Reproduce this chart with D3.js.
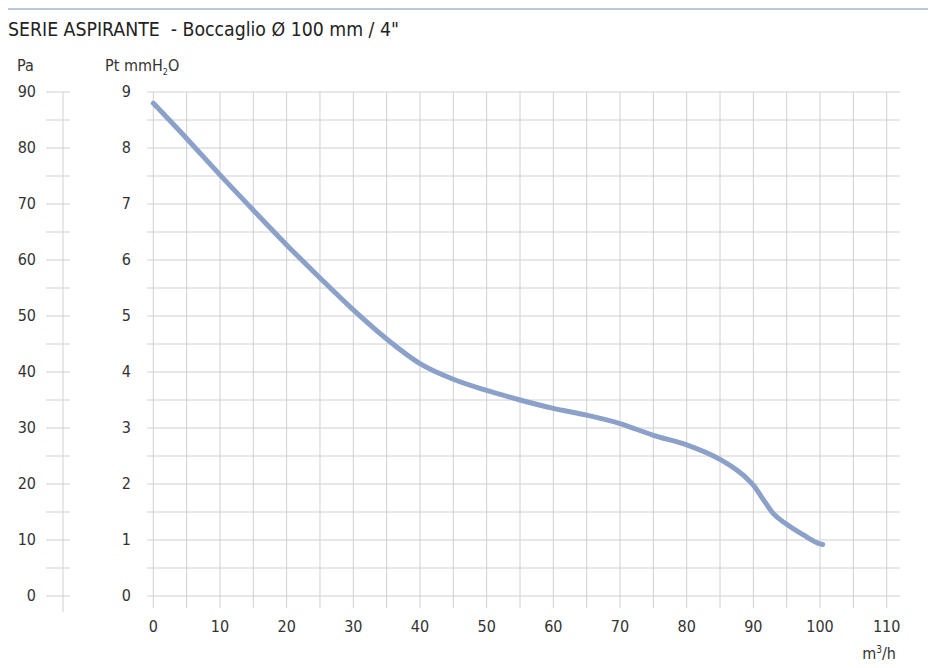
<!DOCTYPE html>
<html lang="it">
<head>
<meta charset="UTF-8">
<title>Serie aspirante</title>
<script src="https://d3js.org/d3.v7.min.js"></script>
<style>
  body { margin: 0; background: #fff; }
  svg text { font-family: "DejaVu Sans Condensed", "Roboto", sans-serif; fill: #333; }
</style>
</head>
<body>
<svg width="934" height="668"></svg>
<script>
  // portata m3/h vs pressione totale mmH2O
  const flow = [0, 5, 10, 15, 20, 25, 30, 35, 40, 45, 50, 55, 60, 65, 70, 75, 80, 85, 87.5, 88.75, 90, 91.5, 93, 95, 97.5, 100, 100.4]
  const pressure = [8.8, 8.17, 7.52, 6.89, 6.27, 5.68, 5.11, 4.59, 4.15, 3.87, 3.67, 3.5, 3.35, 3.23, 3.08, 2.87, 2.7, 2.44, 2.25, 2.13, 1.98, 1.72, 1.47, 1.28, 1.09, 0.93, 0.92]
  const xTicks = [0, 10, 20, 30, 40, 50, 60, 70, 80, 90, 100, 110]
  const ptTicks = [0, 1, 2, 3, 4, 5, 6, 7, 8, 9]
  const paTicks = [0, 10, 20, 30, 40, 50, 60, 70, 80, 90]

  const svg = d3.select("svg")
  const x = d3.scaleLinear().domain([0, 110]).range([153.3, 886.7])
  const y = d3.scaleLinear().domain([0, 9]).range([596, 92])
  const yPa = d3.scaleLinear().domain([0, 90]).range([596, 92])

  // riga in alto
  svg.append("line")
    .attr("x1", 8).attr("x2", 928).attr("y1", 9).attr("y2", 9)
    .attr("stroke", "#a3b5cf").attr("stroke-width", 1.5)

  svg.append("text")
    .attr("x", 8).attr("y", 36)
    .attr("xml:space", "preserve")
    .style("font-size", "19.3px")
    .style("fill", "#222")
    .text("SERIE ASPIRANTE  - Boccaglio Ø 100 mm / 4\"")

  // griglia
  const grid = svg.append("g").attr("stroke", "#d0d0d0").attr("stroke-width", 1)
  grid.selectAll("line.v")
    .data(d3.range(0, 111, 5))
    .join("line")
    .attr("class", "v")
    .attr("x1", d => x(d)).attr("x2", d => x(d))
    .attr("y1", y(9)).attr("y2", 608)
  grid.selectAll("line.h")
    .data(d3.range(0, 9.01, 0.5))
    .join("line")
    .attr("class", "h")
    .attr("x1", 147).attr("x2", 900)
    .attr("y1", d => y(d)).attr("y2", d => y(d))

  // asse Pa
  const paAxis = svg.append("g")
  paAxis.append("line")
    .attr("x1", 63).attr("x2", 63).attr("y1", yPa(90)).attr("y2", 612)
    .attr("stroke", "#d0d0d0")
  paAxis.selectAll("line.t")
    .data(d3.range(0, 91, 5))
    .join("line")
    .attr("class", "t")
    .attr("x1", 46).attr("x2", 70)
    .attr("y1", d => yPa(d)).attr("y2", d => yPa(d))
    .attr("stroke", "#d0d0d0")
  paAxis.selectAll("text")
    .data(paTicks)
    .join("text")
    .attr("x", 36).attr("y", d => yPa(d) + 5)
    .attr("text-anchor", "end")
    .style("font-size", "16px")
    .text(d => d)

  // asse mmH2O
  svg.append("g").selectAll("text")
    .data(ptTicks)
    .join("text")
    .attr("x", 131).attr("y", d => y(d) + 5)
    .attr("text-anchor", "end")
    .style("font-size", "16px")
    .text(d => d)

  // asse x
  svg.append("g").selectAll("text")
    .data(xTicks)
    .join("text")
    .attr("x", d => x(d)).attr("y", 632)
    .attr("text-anchor", "middle")
    .style("font-size", "16px")
    .text(d => d)

  // etichette unità
  svg.append("text").attr("x", 17).attr("y", 71).style("font-size", "16px").text("Pa")
  const pt = svg.append("text").attr("x", 105).attr("y", 71).style("font-size", "16px")
  pt.append("tspan").text("Pt mmH")
  pt.append("tspan").attr("dy", 4).style("font-size", "9px").text("2")
  pt.append("tspan").attr("dy", -4).text("O")

  const unit = svg.append("text").attr("x", 896).attr("y", 659).attr("text-anchor", "end").style("font-size", "16px")
  unit.append("tspan").text("m")
  unit.append("tspan").attr("dy", -6).style("font-size", "10px").text("3")
  unit.append("tspan").attr("dy", 6).text("/h")

  // curva
  const line = d3.line()
    .x((d, i) => x(flow[i]))
    .y(d => y(d))
    .curve(d3.curveMonotoneX)

  svg.append("path")
    .datum(pressure)
    .attr("d", line)
    .attr("fill", "none")
    .attr("stroke", "#8ba1c9")
    .attr("stroke-width", 5)
    .attr("stroke-linecap", "round")
    .attr("stroke-linejoin", "round")
</script>
</body>
</html>
